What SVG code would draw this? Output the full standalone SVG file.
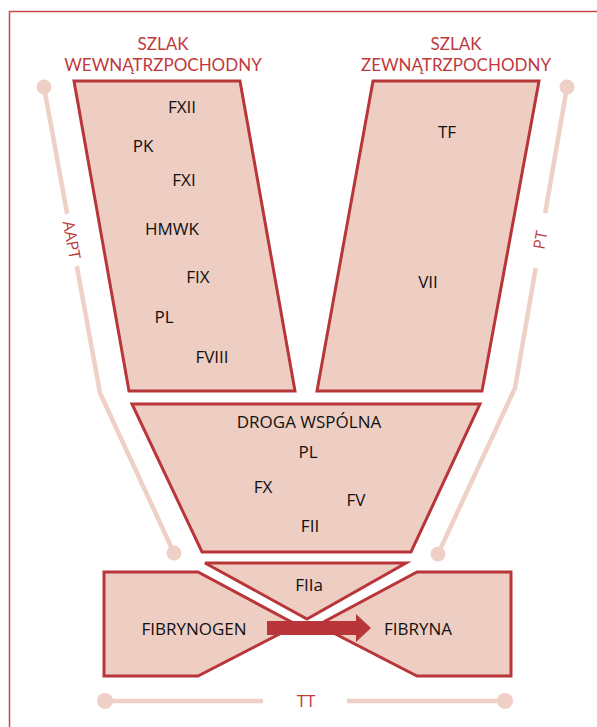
<svg xmlns="http://www.w3.org/2000/svg" width="597" height="727" viewBox="0 0 597 727">
<style>
.box{fill:#eecdc2;stroke:#b8363a;stroke-width:3;stroke-linejoin:miter}
.lbl{font-family:"Open Sans","Liberation Sans",sans-serif;font-size:17px;fill:#111;text-anchor:middle}
.ttl{font-family:Lato,"Open Sans",sans-serif;font-size:17px;fill:#c0393d;text-anchor:middle}
.side{font-family:"Open Sans","Liberation Sans",sans-serif;font-size:16px;fill:#c0393d;text-anchor:middle}
.track{fill:none;stroke:#efd0c6;stroke-width:4.5;stroke-linejoin:round}
.dot{fill:#efd0c6}
</style>
<rect width="597" height="727" fill="#fff"/>
<path d="M9.5,727 V11.5 H597" fill="none" stroke="#c8474a" stroke-width="1.5"/>

<g id="titles">
<text class="ttl" x="163" y="50">SZLAK</text>
<text class="ttl" x="163" y="71">WEWNĄTRZPOCHODNY</text>
<text class="ttl" x="456" y="50">SZLAK</text>
<text class="ttl" x="456" y="71">ZEWNĄTRZPOCHODNY</text>
</g>

<g id="connectors">
<g id="aapt">
<polyline class="track" points="44,87 67.2,214"/>
<polyline class="track" points="76.8,266 100,393 174,553"/>
<circle class="dot" cx="44" cy="87" r="7.5"/>
<circle class="dot" cx="174" cy="553" r="7.5"/>
<text class="side" transform="translate(71.5,240) rotate(79.6)" y="5.5">AAPT</text>
</g>
<g id="pt">
<polyline class="track" points="567,87 545.2,213"/>
<polyline class="track" points="535.7,268 515,388 438,554"/>
<circle class="dot" cx="567" cy="87" r="7.5"/>
<circle class="dot" cx="438" cy="554" r="7.5"/>
<text class="side" transform="translate(540.5,240) rotate(-80.2)" y="5.5">PT</text>
</g>
<g id="tt">
<line class="track" x1="105" y1="701" x2="263" y2="701"/>
<line class="track" x1="347" y1="701" x2="505" y2="701"/>
<circle class="dot" cx="105" cy="701" r="8"/>
<circle class="dot" cx="505" cy="701" r="8"/>
<text class="side" x="306" y="707" style="font-size:17px">TT</text>
</g>
</g>

<g id="intrinsic">
<polygon class="box" points="74,81 240,81 295,391 129,391"/>
<text class="lbl" x="182" y="113">FXII</text>
<text class="lbl" x="143" y="152">PK</text>
<text class="lbl" x="184" y="186">FXI</text>
<text class="lbl" x="172" y="235">HMWK</text>
<text class="lbl" x="198" y="283">FIX</text>
<text class="lbl" x="164" y="323">PL</text>
<text class="lbl" x="212" y="363">FVIII</text>
</g>

<g id="extrinsic">
<polygon class="box" points="373,81 539,81 482,391 317,391"/>
<text class="lbl" x="447" y="138">TF</text>
<text class="lbl" x="428" y="288">VII</text>
</g>

<g id="common">
<polygon class="box" points="132,404 480,404 411,552 202,552"/>
<text class="lbl" x="309" y="428">DROGA WSPÓLNA</text>
<text class="lbl" x="308" y="458">PL</text>
<text class="lbl" x="263" y="493">FX</text>
<text class="lbl" x="356" y="506">FV</text>
<text class="lbl" x="310" y="532">FII</text>
</g>

<g id="fibrynogen">
<polygon class="box" points="104,572 198,572 297,625 198,676 104,676"/>
<text class="lbl" x="194" y="635">FIBRYNOGEN</text>
</g>

<g id="fibryna">
<polygon class="box" points="511,572 417,572 318,625 417,676 511,676"/>
<text class="lbl" x="418" y="635">FIBRYNA</text>
</g>

<g id="thrombin">
<polygon class="box" points="205,563 406,563 307,619"/>
<text class="lbl" x="309" y="591">FIIa</text>
</g>

<g id="arrow">
<path d="M267,621 H356 V614 L371,628 L356,642 V635 H267 Z" fill="#b8363a"/>
</g>
</svg>
